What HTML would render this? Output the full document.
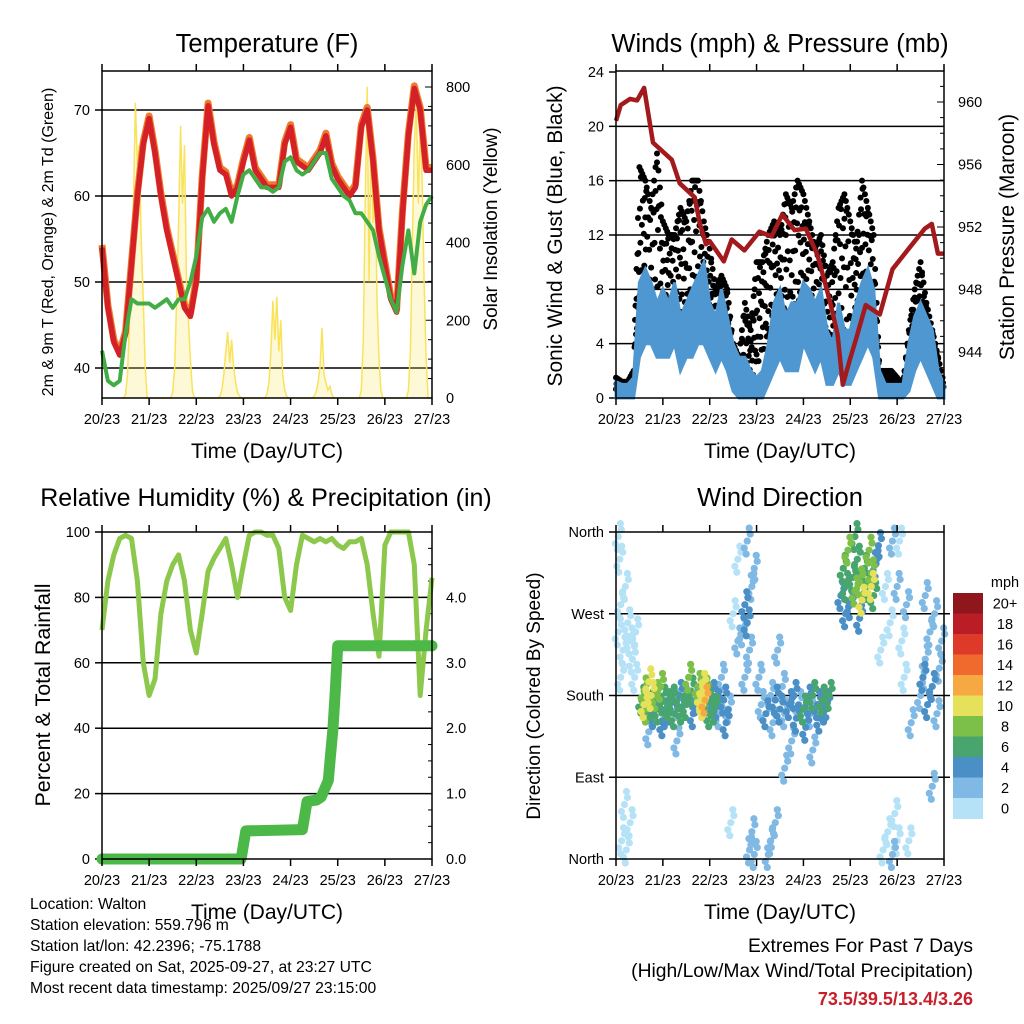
<!DOCTYPE html>
<html><head><meta charset="utf-8"><style>
body{margin:0;background:#fff;}
svg{display:block;font-family:"Liberation Sans",sans-serif;}
</style></head><body>
<svg id="c" width="1024" height="1024" viewBox="0 0 1024 1024" xmlns="http://www.w3.org/2000/svg">
<rect width="1024" height="1024" fill="#fff"/>
</svg>
<script>
// ---- shared ----
const dayLabels = ["20/23","21/23","22/23","23/23","24/23","25/23","26/23","27/23"];
// temperature (3-hourly, day 0..7)
const tempRed = [54,47,43,41.5,44,52,60,66, 69,65,60,56,53,50,47,46, 50,62,70.5,66,63,62.5,60,61, 64,66.5,63,62,61,61,61,66, 68,64,63.5,63,64,65,67,63.5, 62,61,60,61,68,70,64,56, 52,48,46.5,58,67,72.5,70,63, 63];
const tempDew = [42,38.5,38,38.5,44,48,47.5,47.5, 47.5,47,47.5,48,47,48,48,50, 53,57.5,58.5,57,58,58.5,57,60, 62.5,63,62,61,61,60.5,61,64, 64.5,63,62.5,63,64,65,65,62, 61,60,59.5,58,58,57,56,53, 50.5,48,46.5,52,56,51,57,59, 60];
const tempTicks = [40,50,60,70];
const solarTicks = [0,200,400,600,800];
// solar, hourly values for hours 11..23 after each day start
const solarDays = [
 [0,10,60,200,350,500,760,600,650,400,250,80,0],
 [0,15,80,250,450,700,500,650,300,200,100,20,0],
 [0,5,20,60,120,170,90,150,80,40,15,5,0],
 [0,10,40,120,250,150,260,120,200,60,20,5,0],
 [0,5,15,40,80,180,60,40,20,30,10,0,0],
 [0,20,150,500,800,300,700,450,600,250,100,20,0],
 [0,20,120,400,650,760,500,700,550,300,100,0,0]
];
// winds (3-hourly)
const windHi = [1.2,1,1,1.5,8.5,9.5,8.5,7,8,7,8.5,6,7,8,9,10, 7,6,8,6,4,3,3,2, 1.5,2,4,7,8,6,7,7, 8.5,8,7,8,5,4,7,5, 5,7,8.5,9.5,8,2,1,1, 1,1,4,6,7,6,5,2, 1];
const windLo = [0,0,0,0,3,4,4,3,3,3,4,2,3,3,4,4, 3,2,3,2,0.5,0,0,0, 0,0,1,2,3,2,2,2, 4,3,2,3,1,1,2,1, 1,2,3,4,3,0,0,0, 0,0,0.5,2,3,2,1,0, 0];
const gustHi = [1.5,1.2,1.2,2,17,16,14,18,13,12,12,14,13,16,16,13, 11,8,9,8,4,3,7,5, 10,10,12,13,12,15,14,16, 15,13,11,12,9,10,14,15, 13,11,16,14,12,2,2,2, 1.5,1,5,8,10,7,5,3, 1];
const gustLo = [0.5,0.5,0.5,1,7,7,6,5,6,5,6,5,5,6,7,6, 5,4,5,3,1,0.5,1,1, 2,3,4,6,6,5,5,6, 7,6,5,6,3,3,5,3, 3,5,7,7,5,1,0.5,0.5, 0.5,0.5,2,4,5,4,3,1, 0.5];
const presDay = [0,0.1,0.3,0.45,0.6,0.79,1.19,1.36,1.68,1.79,1.92,2.0,2.3,2.47,2.74,3.06,3.32,3.55,3.81,4.05,4.3,4.56,4.73,4.84,4.99,5.12,5.33,5.63,5.9,6.27,6.59,6.74,6.87,7.0];
const presVal = [958.8,959.8,960.2,960.1,960.9,957.4,956.3,954.8,953.9,952.2,950.9,951.1,949.8,951.2,950.5,951.7,951.4,952.8,951.8,951.9,950.2,947.3,945.1,941.9,943.5,944.8,947.0,946.4,949.3,950.7,951.9,952.2,950.3,950.3];
const windTicks = [0,4,8,12,16,20,24];
const presTicks = [944,948,952,956,960];
// humidity / precip
const rhVal = [70,85,93,98,99,98,85,60, 50,55,75,85,90,93,85,70, 63,75,88,92,95,98,90,80, 90,99,100,100,99,99,95,80, 76,90,99,98,97,98,97,98, 96,95,97,97,98,90,75,62, 96,100,100,100,100,90,50,70, 86];
const precDay = [0,2.95,3.05,4.25,4.35,4.55,4.65,4.8,4.85,4.9,4.95,5.0,7.0];
const precVal = [0,0,0.43,0.45,0.88,0.9,0.95,1.2,1.6,2.0,2.6,3.26,3.26];
const rhTicks = [0,20,40,60,80,100];
const precTicks = ["0.0","1.0","2.0","3.0","4.0"];
// wind direction
const dirDay = [0.05,0.1,0.15,0.2,0.08,0.25,0.3,0.35,0.12,0.22,0.3,0.05,0.4,0.18,0.42,0.1,
0.55,0.6,0.65,0.7,0.75,0.8,0.85,0.9,0.95,1.0,1.05,1.1,1.15,1.2,1.25,1.3,1.35,1.4,1.45,1.5,1.55,1.6,1.65,1.7,1.75,1.8,1.85,1.9,1.95,2.0,2.05,2.1,2.15,2.2,2.3,2.35,2.4,0.7,1.3,2.25,1.0,0.6,0.75,1.85,1.9,
2.6,2.7,2.75,2.8,2.85,2.9,2.95,2.8,2.85,2.9,2.95,2.75,2.6,3.05,2.5,2.45,
3.1,3.2,3.3,3.35,3.4,3.5,3.55,3.6,3.7,3.75,3.8,3.85,3.9,4.0,4.05,4.1,4.15,4.2,4.3,4.35,4.4,4.45,4.5,4.55,3.3,3.4,3.25,3.6,4.2,3.45,
4.8,4.85,4.9,4.95,5.0,5.05,5.1,5.15,5.2,5.25,5.3,5.35,5.4,5.45,5.5,5.55,5.6,5.1,4.9,5.2,5.45,
5.7,5.8,5.9,5.95,6.0,6.05,5.75,5.85,6.1,6.15,6.2,5.65,6.25,6.3,5.9,6.0,
6.5,6.55,6.6,6.65,6.7,6.75,6.8,6.85,6.9,6.95,6.75,6.6];
const dirDeg = [250,280,230,300,330,260,240,220,20,10,40,355,200,60,250,200,
175,185,165,195,170,160,180,165,190,175,160,170,165,175,160,170,180,165,175,170,200,185,160,175,190,180,170,185,175,160,180,165,170,160,175,150,165,140,130,200,150,170,180,190,175,
240,250,280,260,230,300,320,350,10,30,5,200,330,200,270,40,
170,160,180,150,175,165,190,160,170,130,180,155,170,165,145,175,160,180,170,155,175,165,170,180,20,40,5,100,120,230,
290,320,300,340,280,310,295,330,305,285,320,300,340,315,290,325,345,355,270,265,300,
10,30,5,50,20,350,300,260,240,200,280,230,20,150,350,300,
180,200,220,170,250,190,270,160,210,240,80,290];
const dirSpd = [1,1,1,1,1,1,1,1,1,1,1,1,1,1,1,1,
6,9,8,10,7,5,8,6,9,7,5,6,4,7,6,3,5,6,4,7,8,6,4,5,9,10,11,8,7,6,5,7,4,3,5,4,3,3,2,2,4,10,11,10,12,
2,3,5,4,3,2,3,3,2,3,2,3,1,2,1,1,
3,4,2,3,5,4,3,2,4,3,5,4,3,6,4,5,3,6,5,4,6,5,4,7,2,2,2,3,3,2,
5,7,6,8,5,7,9,6,8,10,6,7,9,8,6,5,4,6,4,5,10,
1,1,2,1,1,1,1,1,1,1,2,1,1,2,3,2,
3,4,2,5,3,4,3,2,3,2,3,2];
const speedBins = ["0","2","4","6","8","10","12","14","16","18","20+"];
const speedColors = ["#b5e2f7","#7fb9e4","#4a8fc6","#49a56e","#7cc04a","#e6e15a","#f6a942","#ef6a2c","#dd3a2a","#bb1d26","#8f161b"];

// ---- helpers ----
const NS="http://www.w3.org/2000/svg";
const svg=document.getElementById("c");
function mk(tag,attrs,parent){const e=document.createElementNS(NS,tag);for(const k in attrs)e.setAttribute(k,attrs[k]);(parent||svg).appendChild(e);return e;}
function txt(s,x,y,size,anchor,parent,extra){const t=mk("text",Object.assign({x:x,y:y,"font-size":size,"text-anchor":anchor||"middle",fill:"#000"},extra||{}),parent);t.textContent=s;return t;}
function lin(d0,d1,r0,r1){return v=>r0+(v-d0)*(r1-r0)/(d1-d0);}
function pathFrom(xs,ys){let d="";for(let i=0;i<xs.length;i++)d+=(i?"L":"M")+xs[i].toFixed(1)+","+ys[i].toFixed(1);return d;}
function band(xs,hi,lo){let d="";for(let i=0;i<xs.length;i++)d+=(i?"L":"M")+xs[i].toFixed(1)+","+hi[i].toFixed(1);for(let i=xs.length-1;i>=0;i--)d+="L"+xs[i].toFixed(1)+","+lo[i].toFixed(1);return d+"Z";}
const step3=[];for(let i=0;i<=56;i++)step3.push(i/8);

function frame(g,x0,x1,y0,y1,xs){
  dayLabels.forEach((lab,i)=>{
    const x=xs(i);
    mk("line",{x1:x,x2:x,y1:y0,y2:y0-7,stroke:"#000","stroke-width":1.5},g);
    mk("line",{x1:x,x2:x,y1:y1,y2:y1+7,stroke:"#000","stroke-width":1.5},g);
    const t=txt(lab,x,y1+26,14.5,"middle",g);
    
    
  });
  const b=mk("rect",{x:x0,y:y0,width:x1-x0,height:y1-y0,fill:"none",stroke:"#000","stroke-width":1.5},g);
  
  
  const xt=txt("Time (Day/UTC)",(x0+x1)/2,y1+60,21,"middle",g);
  
  
}
function grp(name){const g=mk("g",{});return g;}

// ===== Panel 1: Temperature =====
(function(){
  const g=grp("temperature-panel");
  const X0=102,X1=432,Y0=71,Y1=398;
  const xs=lin(0,7,X0,X1), yT=lin(40,70,368,110), yS=lin(0,800,398,87);
  tempTicks.forEach(v=>{
    mk("line",{x1:X0,x2:X1,y1:yT(v),y2:yT(v),stroke:"#000","stroke-width":1.5},g);
    mk("line",{x1:X0,x2:X0-7,y1:yT(v),y2:yT(v),stroke:"#000","stroke-width":1.5},g);
    const t=txt(String(v),X0-12,yT(v)+5,14.5,"end",g);
    
    
  });
  for(let v=0;v<=800;v+=50){mk("line",{x1:X1,x2:X1-(v%200==0?7:4),y1:yS(v),y2:yS(v),stroke:"#000","stroke-width":1},g);}
  solarTicks.forEach(v=>{const t=txt(String(v),X1+14,yS(v)+5,14.5,"start",g);});
  const sx=[],sy=[];
  solarDays.forEach((arr,d)=>arr.forEach((v,h)=>{sx.push(xs(d+(11+h)/24));sy.push(yS(v));}));
  const sp=mk("path",{d:pathFrom(sx,sy),fill:"#f9e35c","fill-opacity":0.25,stroke:"#f9e35c","stroke-width":1.5},g);
  
  
  const xT=step3.map(xs);
  const o=mk("path",{d:pathFrom(xT,tempRed.map(v=>yT(v+0.3))),fill:"none",stroke:"#f07a2c","stroke-width":7,"stroke-linejoin":"round"},g);
  
  
  const r=mk("path",{d:pathFrom(xT,tempRed.map(yT)),fill:"none",stroke:"#d42027","stroke-width":5.5,"stroke-linejoin":"round"},g);
  
  
  const gd=mk("path",{d:pathFrom(xT,tempDew.map(yT)),fill:"none",stroke:"#42ad44","stroke-width":4,"stroke-linejoin":"round"},g);
  
  
  frame(g,X0,X1,Y0,Y1,xs);
  const ti=txt("Temperature (F)",267,52,25.5,"middle",g);
  const yl=txt("2m & 9m T (Red, Orange) & 2m Td (Green)",0,0,16,"middle",g,{transform:"translate(53,242) rotate(-90)"});
  const yr=txt("Solar Insolation (Yellow)",0,0,19,"middle",g,{transform:"translate(497,229) rotate(-90)"});
})();

// ===== Panel 2: Winds =====
(function(){
  const g=grp("winds-panel");
  const X0=616,X1=944,Y0=71,Y1=398;
  const xs=lin(0,7,X0,X1), yW=lin(0,24,398,72), yP=lin(944,960,352,102);
  windTicks.forEach(v=>{
    if(v>0&&v<24)mk("line",{x1:X0,x2:X1,y1:yW(v),y2:yW(v),stroke:"#000","stroke-width":1.5},g);
    mk("line",{x1:X0,x2:X0-7,y1:yW(v),y2:yW(v),stroke:"#000","stroke-width":1.5},g);
    const t=txt(String(v),X0-12,yW(v)+5,14.5,"end",g);
  });
  for(let v=942;v<=962;v++){const y=yP(v);if(y>Y0&&y<Y1)mk("line",{x1:X1,x2:X1-(v%4==0?7:4),y1:y,y2:y,stroke:"#000","stroke-width":1},g);}
  presTicks.forEach(v=>{const t=txt(String(v),X1+14,yP(v)+5,14.5,"start",g);});
  const gp=mk("g",{fill:"#000"},g);
  
  
  const pat=[0.15,0.55,0.3,0.85,0.05,0.7,0.45,0.95,0.25,0.6,0.1,0.8];
  for(let i=0;i<step3.length-1;i++){
    for(let k=0;k<12;k++){
      const f=k/12;
      const hi=gustHi[i]+(gustHi[i+1]-gustHi[i])*f, lo=gustLo[i]+(gustLo[i+1]-gustLo[i])*f;
      const v=lo+(hi-lo)*pat[(k+i)%12];
      const c=mk("circle",{cx:xs(step3[i]+f/8),cy:yW(v),r:3},gp);
      
      
      if(k%3==0){const c2=mk("circle",{cx:xs(step3[i]+f/8),cy:yW(hi),r:3},gp);}
    }
  }
  const xT=step3.map(xs);
  const wb=mk("path",{d:band(xT,windHi.map(yW),windLo.map(yW)),fill:"#4f97d1",stroke:"#4f97d1","stroke-width":3},g);
  
  
  const pl=mk("path",{d:pathFrom(presDay.map(xs),presVal.map(yP)),fill:"none",stroke:"#a31a1d","stroke-width":4.5,"stroke-linejoin":"round"},g);
  
  
  frame(g,X0,X1,Y0,Y1,xs);
  const ti=txt("Winds (mph) & Pressure (mb)",780,52,25.5,"middle",g);
  const yl=txt("Sonic Wind & Gust (Blue, Black)",0,0,21,"middle",g,{transform:"translate(562,236) rotate(-90)"});
  const yr=txt("Station Pressure (Maroon)",0,0,21,"middle",g,{transform:"translate(1014,237) rotate(-90)"});
})();

// ===== Panel 3: RH & precip =====
(function(){
  const g=grp("humidity-precip-panel");
  const X0=102,X1=432,Y0=532,Y1=859;
  const xs=lin(0,7,X0,X1), yR=lin(0,100,859,532), yPr=lin(0,5,859,532);
  rhTicks.forEach(v=>{
    if(v>0&&v<100)mk("line",{x1:X0,x2:X1,y1:yR(v),y2:yR(v),stroke:"#000","stroke-width":1.5},g);
    mk("line",{x1:X0,x2:X0-7,y1:yR(v),y2:yR(v),stroke:"#000","stroke-width":1.5},g);
    const t=txt(String(v),X0-12,yR(v)+5,14.5,"end",g);
  });
  for(let v=0;v<=5;v+=0.25){mk("line",{x1:X1,x2:X1-(v%1==0?7:4),y1:yPr(v),y2:yPr(v),stroke:"#000","stroke-width":1},g);}
  precTicks.forEach(s=>{const t=txt(s,X1+14,yPr(parseFloat(s))+5,14.5,"start",g);});
  const rl=mk("path",{d:pathFrom(step3.map(xs),rhVal.map(yR)),fill:"none",stroke:"#8cc84b","stroke-width":5,"stroke-linejoin":"round"},g);
  
  
  const pp=mk("path",{d:pathFrom(precDay.map(xs),precVal.map(yPr)),fill:"none",stroke:"#4cb848","stroke-width":11,"stroke-linejoin":"round","stroke-linecap":"round"},g);
  
  
  frame(g,X0,X1,Y0,Y1,xs);
  const ti=txt("Relative Humidity (%) & Precipitation (in)",266,506,25,"middle",g);
  const yl=txt("Percent & Total Rainfall",0,0,21.5,"middle",g,{transform:"translate(50,695) rotate(-90)"});
})();

// ===== Panel 4: Wind direction =====
(function(){
  const g=grp("wind-direction-panel");
  const X0=616,X1=944,Y0=532,Y1=859;
  const xs=lin(0,7,X0,X1), yD=lin(0,360,859,532);
  const dirLabels=["North","East","South","West","North"];
  dirLabels.forEach((s,i)=>{
    const v=i*90;
    if(i>0&&i<4)mk("line",{x1:X0,x2:X1+6,y1:yD(v),y2:yD(v),stroke:"#000","stroke-width":1.5},g);
    mk("line",{x1:X0,x2:X0-7,y1:yD(v),y2:yD(v),stroke:"#000","stroke-width":1.5},g);
    const t=txt(s,X0-12,yD(v)+5,14.5,"end",g);
  });
  const pg=mk("g",{},g);
  
  
  const order=dirSpd.map((s,i)=>i).sort((a,b)=>dirSpd[a]-dirSpd[b]);
  const offs=[[0,0],[-3,7],[3,-7],[-1,13],[2,-13]];
  order.forEach(i=>{
    const bin=Math.min(10,Math.floor(dirSpd[i]/2));
    offs.forEach(o=>{
      const c=mk("circle",{cx:xs(dirDay[i])+o[0],cy:yD(dirDeg[i])+o[1],r:3.6,fill:speedColors[bin]},pg);
      
      
    });
  });
  frame(g,X0,X1,Y0,Y1,xs);
  const ti=txt("Wind Direction",780,506,25.5,"middle",g);
  const yl=txt("Direction (Colored By Speed)",0,0,19,"middle",g,{transform:"translate(540,696) rotate(-90)"});
  const cb=grp("speed-colorbar");
  const bh=20.5, top=593;
  speedBins.forEach((s,i)=>{
    const k=10-i;
    const r=mk("rect",{x:953,y:top+i*bh,width:30,height:bh+0.5,fill:speedColors[k]},cb);
    
    
    const t=txt(speedBins[k],1005,top+i*bh+bh/2+5,14.5,"middle",cb);
    
    
  });
  const u=txt("mph",1005,587,14.5,"middle",cb);
})();

// ===== Footer =====
(function(){
  const g=grp("station-info");
  const lines=["Location: Walton","Station elevation: 559.796 m","Station lat/lon: 42.2396; -75.1788","Figure created on Sat, 2025-09-27, at 23:27 UTC","Most recent data timestamp: 2025/09/27 23:15:00"];
  lines.forEach((s,i)=>{const t=txt(s,30,909+i*21,15.7,"start",g);});
  const e=grp("extremes-summary");
  const a=txt("Extremes For Past 7 Days",973,952,19.3,"end",e);
  const b=txt("(High/Low/Max Wind/Total Precipitation)",973,977,19.3,"end",e);
  const c=txt("73.5/39.5/13.4/3.26",973,1005,18,"end",e,{fill:"#c8202a","font-weight":"bold"});
})();
</script>
</body></html>
